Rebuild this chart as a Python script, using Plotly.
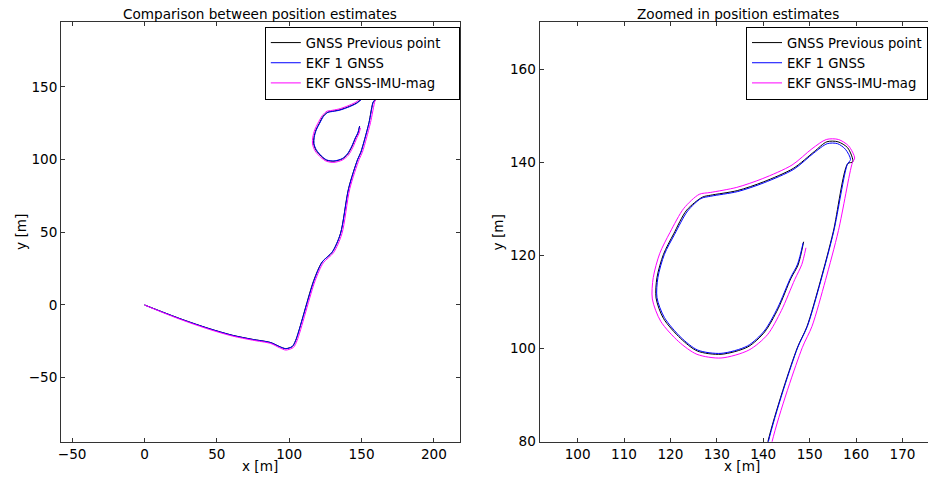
import plotly.graph_objects as go

# GNSS Previous point (black)
gnss_x = [0, 12.4, 26.2, 44.6, 60.7, 74.5, 87.1, 92.9, 97.5, 102.1, 104.4, 116.9, 122.7, 129.7,
          135.4, 141.0, 147.3, 149.4, 152.3, 155.1, 158.2, 159.3, 158.2, 156.1, 153.7, 151.0,
          146.5, 140.1, 134.4, 128.6, 126.9, 123.5, 120.7, 118.5, 117.1, 116.9, 118.5, 122.2, 125.8,
          130.9, 136.7, 140.3, 143.2, 146.0, 147.5, 148.7]
gnss_y = [0, -4.8, -10.0, -16.2, -20.8, -23.6, -25.8, -28.4, -30.0, -28.6, -24.6, 16.7, 29.5, 36.3,
          49.0, 80.0, 100.1, 104.7, 114.5, 125.2, 139.8, 140.2, 143.2, 144.5, 144.5, 142.4,
          138.8, 135.9, 134.0, 133.0, 132.6, 129.8, 124.7, 120.3, 115.3, 110.9, 106.5, 102.2, 99.5,
          98.8, 100.4, 103.6, 108.6, 115.2, 118.0, 123.0]

# EKF 1 GNSS (blue)
ekf1_x = [0, 12.5, 26.3, 44.7, 60.8, 74.6, 87.2, 93.0, 97.6, 102.2, 104.5, 117.2, 122.9, 129.8,
          135.5, 141.1, 147.4, 149.5, 152.4, 155.2, 158.1, 158.8, 157.7, 156.0, 153.8, 150.9,
          146.6, 140.2, 134.5, 128.7, 126.6, 123.7, 120.9, 118.7, 117.3, 117.1, 118.7, 122.3, 125.9,
          130.9, 136.6, 140.2, 143.1, 145.9, 147.4, 148.6]
ekf1_y = [0, -4.9, -10.1, -16.3, -20.9, -23.7, -25.9, -28.5, -30.1, -28.5, -24.4, 16.9, 29.6, 36.4,
          49.1, 80.0, 100.2, 104.8, 114.6, 125.3, 139.6, 140.7, 142.9, 144.1, 144.1, 142.1,
          138.6, 135.7, 133.8, 132.8, 132.3, 129.6, 124.6, 120.3, 115.3, 111.0, 106.7, 102.4, 99.7,
          99.0, 100.6, 103.8, 108.8, 115.3, 118.2, 122.8]

# EKF GNSS-IMU-mag (magenta)
ekf2_x = [0, 12.6, 26.4, 44.8, 60.9, 74.7, 87.3, 93.1, 97.7, 102.9, 105.4, 117.9, 123.6, 130.6,
          136.4, 141.9, 148.4, 150.5, 153.4, 156.2, 159.2, 159.7, 158.4, 156.2, 153.6, 150.5,
          146.2, 139.9, 134.3, 128.6, 126.2, 122.9, 119.9, 117.7, 116.3, 116.1, 117.9, 121.8, 125.7,
          130.9, 136.9, 140.9, 143.9, 146.8, 148.3, 149.2]
ekf2_y = [0, -5.2, -10.5, -16.8, -21.4, -24.2, -26.5, -29.3, -31.0, -29.2, -24.6, 16.6, 29.0, 35.9,
          48.9, 80.0, 100.2, 104.8, 114.7, 125.4, 140.0, 141.0, 143.6, 145.0, 145.0, 143.0,
          139.5, 136.6, 134.7, 133.6, 133.2, 130.2, 125.0, 120.5, 115.3, 110.7, 105.9, 101.5, 98.8,
          98.0, 99.7, 103.0, 108.2, 114.9, 118.1, 121.7]

names = ["GNSS Previous point", "EKF 1 GNSS", "EKF GNSS-IMU-mag"]
series = [
    (gnss_x, gnss_y, "black"),
    (ekf1_x, ekf1_y, "#0000ff"),
    (ekf2_x, ekf2_y, "#ff00ff"),
]

W, H = 928, 477
HE = 469  # effective rendered height in the capture
fig = go.Figure()
for name, (xs, ys, col) in zip(names, series):
    fig.add_trace(go.Scatter(x=xs, y=ys, mode="lines", name=name + "\u00a0\u00a0\u00a0",
                             line=dict(color=col, width=1.0, shape="spline", smoothing=0.8),
                             xaxis="x", yaxis="y", legend="legend"))
for name, (xs, ys, col) in zip(names, series):
    fig.add_trace(go.Scatter(x=xs, y=ys, mode="lines", name=name,
                             line=dict(color=col, width=1, shape="spline", smoothing=0.8),
                             xaxis="x2", yaxis="y2", legend="legend2"))

FS = 13.6
font = dict(family="DejaVu Sans", size=FS, color="black")
lfont = dict(family="DejaVu Sans", size=13.2, color="black")
ydom = [1 - 441.7 / HE, 1 - 22.3 / HE]
axcommon = dict(showgrid=False, zeroline=False, showline=True, linecolor="#333",
                linewidth=1, ticks="inside", ticklen=4, tickcolor="#333",
                tickfont=font)

fig.update_layout(
    width=W, height=H, margin=dict(l=0, r=0, t=0, b=0),
    paper_bgcolor="white", plot_bgcolor="white", font=font,
    xaxis=dict(domain=[58.3 / W, 458.3 / W], range=[-57.6, 217.9],
               tickvals=[-50, 0, 50, 100, 150, 200], mirror="allticks", anchor="y", **axcommon),
    yaxis=dict(domain=ydom, range=[-94, 194.3],
               tickvals=[-50, 0, 50, 100, 150], mirror="allticks", anchor="x", **axcommon),
    xaxis2=dict(domain=[538.3 / W, 1.0], range=[91.8, 175.5],
                tickvals=[100, 110, 120, 130, 140, 150, 160, 170], mirror="allticks",
                anchor="y2", **axcommon),
    yaxis2=dict(domain=ydom, range=[80, 170.2],
                tickvals=[80, 100, 120, 140, 160], mirror=False, anchor="x2", **axcommon),
    legend=dict(x=458.3 / W, xanchor="right", y=1 - 26.5 / HE, yanchor="top",
                bgcolor="white", bordercolor="black", borderwidth=1, font=lfont,
                tracegroupgap=0),
    legend2=dict(x=1.0, xanchor="right", y=1 - 26.5 / HE, yanchor="top",
                 bgcolor="white", bordercolor="black", borderwidth=1, font=lfont,
                 tracegroupgap=0),
    showlegend=True,
)

annos = [
    ("Comparison between position estimates", 258, 14, 0),
    ("Zoomed in position estimates", 737.5, 14, 0),
    ("x [m]", 258, 466, 0),
    ("x [m]", 741, 466, 0),
    ("y [m]", 18, 232, -90),
    ("y [m]", 497, 232, -90),
]
for text, px, py, ang in annos:
    fig.add_annotation(text=text, x=px / W, y=1 - py / HE, xref="paper", yref="paper",
                       showarrow=False, xanchor="center", yanchor="middle",
                       textangle=ang, font=font)

post = ("document.documentElement.style.margin='0';document.documentElement.style.overflow='hidden';"
        "document.body.style.margin='0';document.body.style.padding='0';"
        "document.body.style.overflow='hidden';")
fig.write_html("out.html", post_script=post, config={"displayModeBar": False})
